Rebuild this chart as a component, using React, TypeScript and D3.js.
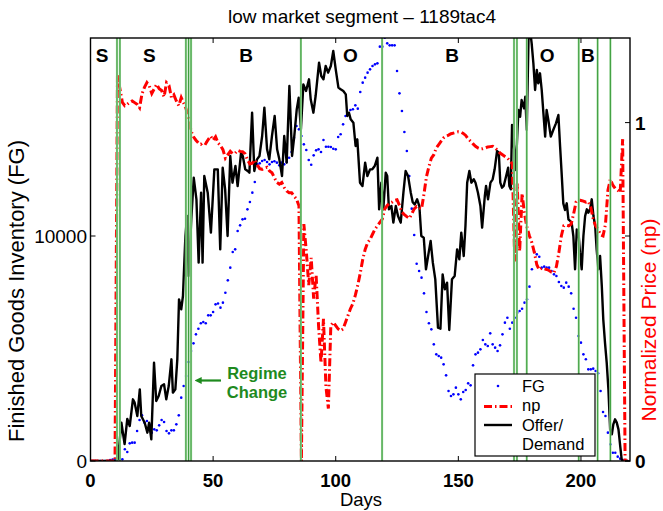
import React from 'react';
import * as d3 from 'd3';

// ---------- data ----------
// Finished goods inventory, one value per day (index = day)
const fgValues = [
  0, 0, 0, 0, 0, 0, 0, 0, 40, 60,
  100, 130, 90, 74, 519, 400, 785, 815, 815, 1333,
  1822, 2030, 1704, 1778, 1630, 1259, 1407, 1363, 1585, 1822,
  1733, 1333, 1230, 1363, 1363, 1630, 2030, 2815, 3333, 3778,
  4400, 4889, 5230, 5630, 5881, 6119, 6178, 6119, 6474, 6474,
  6622, 6963, 7000, 6815, 7037, 7481, 8030, 8593, 9289, 9407,
  10222, 10474, 10741, 10770, 11185, 11511, 11926, 12400, 13185, 13230,
  13333, 13378, 13289, 13185, 13289, 13319, 13259, 13141, 13259, 13185,
  13289, 13481, 13733, 14370, 14889, 14741, 14444, 14074, 13822, 13378,
  13170, 13585, 13807, 13852, 13733, 14267, 13970, 13970, 13956, 13881,
  13852, 14400, 14519, 14963, 15333, 15407, 15600, 15630, 15807, 15659,
  16400, 16815, 17037, 17259, 17407, 17556, 17630, 17674, 18415, 18415,
  18815, 18563, 18474, 18474, 18474, 17333, 16341, 15556, 14622, 13778,
  12667, 11215, 10044, 8770, 8444, 8148, 7452, 6622, 6119, 5852,
  5185, 4741, 4667, 4593, 4296, 3807, 3111, 2889, 2963, 3259,
  2963, 2741, 3067, 3156, 3452, 3363, 4252, 4741, 4815, 4963,
  5378, 5185, 5111, 5674, 5185, 5037, 4889, 5141, 5630, 6148,
  6370, 5881, 6148, 6370, 6593, 6667, 6770, 7037, 7185, 7748,
  8519, 9289, 9185, 9081, 8593, 8637, 8593, 8593, 8444, 8296,
  8222, 7956, 7778, 7704, 7926, 7748, 7452, 6770, 6370, 5556,
  5259, 4741, 4519, 4074, 4074, 4104, 4000, 3896, 3111, 2178,
  2000, 1259, 741, 370, 370, 193, 104, 44, 0, 0,
];

// Normalized price, one value per day (index = day)
const npValues = [
  0, 0, 0, 0, 0, 0, 0, 0, 0, 0,
  0, 1.14, 1.10, 1.06, 1.05, 1.054, 1.06, 1.064, 1.059, 1.054,
  1.044, 1.085, 1.104, 1.118, 1.108, 1.086, 1.10, 1.113, 1.10, 1.095,
  1.076, 1.118, 1.11, 1.074, 1.082, 1.064, 1.05, 1.074, 1.058, 1.04,
  1.015, 0.975, 0.958, 0.948, 0.94, 0.936, 0.942, 0.938, 0.95, 0.96,
  0.948, 0.958, 0.94, 0.932, 0.92, 0.895, 0.905, 0.915, 0.908, 0.91,
  0.918, 0.915, 0.914, 0.908, 0.89, 0.878, 0.88, 0.89, 0.875, 0.864,
  0.862, 0.866, 0.868, 0.857, 0.852, 0.837, 0.823, 0.818, 0.823, 0.808,
  0.798, 0.793, 0.793, 0.783, 0.774, 0.754, 0, 0.70, 0.62, 0.52,
  0.60, 0.48, 0.55, 0.40, 0.29, 0.42, 0.22, 0.155, 0.40, 0.41,
  0.40, 0.39, 0.385, 0.39, 0.41, 0.43, 0.45, 0.465, 0.49, 0.52,
  0.555, 0.595, 0.625, 0.645, 0.655, 0.67, 0.685, 0.695, 0.705, 0.715,
  0.745, 0.755, 0.762, 0.765, 0.77, 0.772, 0.755, 0.735, 0.728, 0.722,
  0.717, 0.73, 0.745, 0.752, 0.748, 0.745, 0.79, 0.84, 0.87, 0.895,
  0.905, 0.925, 0.935, 0.945, 0.955, 0.96, 0.963, 0.967, 0.969, 0.971,
  0.973, 0.972, 0.968, 0.962, 0.952, 0.945, 0.937, 0.93, 0.925, 0.922,
  0.923, 0.925, 0.928, 0.929, 0.93, 0.925, 0.918, 0.91, 0.905, 0.9,
  0.895, 0.888, 0.878, 0.59, 0.82, 0.62, 0.79, 0.73, 0.69, 0.665,
  0.645, 0.616, 0.58, 0.565, 0.57, 0.568, 0.566, 0.563, 0.558, 0.556,
  0.575, 0.616, 0.665, 0.695, 0.697, 0.695, 0.70, 0.73, 0.765, 0.772,
  0.77, 0.768, 0.765, 0.767, 0.75, 0.715, 0.695, 0.685, 0.668, 0.665,
  0.70, 0.80, 0.833, 0.815, 0.805, 0.8, 0.793, 0.951, 0, 0,
];

// Offer/Demand line: sample days and values
const odDays = [
  0, 10.5, 11.2, 12.6, 13.9, 15, 16, 17.3, 18, 19.1,
  20.1, 20.7, 22.1, 23.2, 23.9, 24.8, 25.9, 26.8, 27.8, 28.9,
  30, 30.9, 31.9, 33, 33.6, 34.6, 35.4, 36.1, 37, 37.7,
  38.7, 39.4, 40, 41.1, 42.1, 43.2, 44.1, 45.1, 45.7, 46.4,
  47.8, 49.1, 50.5, 51.9, 52.9, 53.9, 54.9, 55.9, 57, 57.9,
  59.1, 60, 61.4, 62.1, 63.1, 64.1, 64.8, 65.9, 66.8, 67.9,
  68.9, 70, 70.9, 72, 72.9, 74, 75.1, 76.1, 77, 78.1,
  79, 80, 81.1, 82.2, 83.1, 84.1, 84.9, 85.8, 86.8, 87.9,
  89.1, 89.8, 90.9, 91.8, 93.2, 94.1, 95, 95.9, 96.9, 98,
  99, 100, 101.1, 102, 103.1, 104.1, 104.7, 105.4, 106.1, 107.2,
  108.1, 108.8, 109.9, 110.9, 112, 112.9, 114, 114.9, 115.9, 117,
  117.7, 118.6, 119.4, 120.4, 121, 121.7, 122.7, 123.5, 124.5, 125.4,
  126.5, 127.6, 128.5, 129.5, 130.6, 131.4, 132.2, 133.2, 134.1, 134.9,
  135.9, 136.8, 137.9, 138.7, 139.6, 140.6, 141.7, 142.7, 143.6, 144.5,
  145.4, 146.3, 147.4, 148.5, 149.5, 150.4, 151.2, 152.2, 152.9, 153.6,
  154.5, 155.3, 156.3, 157, 158, 159, 159.7, 160.8, 161.3, 162.1,
  163.1, 164, 164.8, 165.8, 166.5, 167.1, 167.8, 168.5, 169.5, 170.3,
  170.8, 171.4, 171.9, 172.7, 173.4, 174.5, 175.2, 175.8, 176.8, 177.3,
  177.9, 178.6, 179.2, 179.9, 180.6, 181.3, 182, 182.6, 183.3, 184,
  184.7, 185.4, 186, 186.7, 187.7, 188.7, 189.8, 190.8, 191.5, 192.2,
  192.8, 193.5, 194.2, 194.9, 195.6, 196.2, 196.9, 197.6, 198.3, 199,
  199.6, 200.3, 201, 201.7, 202.4, 203, 203.7, 204.4, 205.1, 205.8,
  206.4, 207.1, 207.8, 208.5, 209.1, 209.8, 210.5, 211.2, 211.9, 212.6,
  213.2, 213.9, 214.6, 215.3, 216, 216.6, 217, 219,
];
const odValues = [
  0, 0, 90, 1700, 750, 1870, 1556, 2741, 2593, 2000,
  3185, 2000, 1700, 1260, 1700, 963, 4370, 2667, 2889, 3333,
  3407, 2741, 3333, 4519, 3037, 3185, 4519, 7185, 6741, 7333,
  10000, 10889, 8222, 10741, 12593, 11630, 8815, 11926, 8815, 12667,
  11926, 10148, 12963, 12963, 9407, 13037, 12074, 10000, 13556, 12370,
  13111, 12222, 13704, 13556, 12963, 12889, 12815, 15481, 12889, 13407,
  13556, 14444, 15704, 13852, 13407, 14444, 15333, 13852, 13407, 12667,
  14444, 13259, 16667, 13556, 14444, 15630, 16148, 14741, 16741, 16444,
  16963, 16074, 15481, 16222, 17704, 17111, 16963, 17556, 17259, 17556,
  18222, 17407, 16593, 16519, 16444, 16296, 15333, 15481, 15185, 15037,
  14000, 14296, 12370, 12222, 13259, 12667, 12963, 12963, 13111, 13481,
  11185, 12370, 11185, 12815, 12667, 11185, 11333, 10593, 11333, 10889,
  10593, 11926, 12889, 12667, 11926, 11500, 11400, 11630, 11333, 10000,
  9926, 8519, 9259, 9778, 8815, 8074, 5926, 5881, 8296, 7630,
  7926, 5822, 8074, 8222, 9407, 8963, 10148, 9111, 10444, 12370,
  12889, 12370, 12519, 12370, 11926, 11333, 10370, 11778, 12222, 11630,
  12370, 12519, 12963, 13778, 13704, 12370, 12148, 12222, 12667, 13037,
  12222, 12074, 14933, 13970, 12933, 15600, 15300, 16044, 15674, 16190,
  14711, 18711, 19200, 18563, 17674, 16489, 17378, 16785, 17230, 16489,
  15452, 14415, 15600, 15156, 14415, 14711, 15007, 15378, 13970, 12637,
  11452, 11156, 11452, 10741, 10667, 10593, 10000, 8519, 10296, 10148,
  9259, 8519, 10000, 10889, 11185, 11037, 11185, 11630, 10889, 10444,
  9407, 8519, 9111, 7778, 6296, 5259, 4370, 3185, 1407, 1185,
  1630, 1852, 1704, 1407, 667, 74, 0, 0,
];

// Regime-change days (green verticals)
const regimeDays = [10.8, 12, 38.9, 40, 41, 85.8, 118.9, 172.7, 173.9, 177.9, 199.1, 206.8, 212];

// Regime letters
const regimeLabels = ['S', 'S', 'B', 'O', 'B', 'O', 'B'];
const regimeLabelDays = [4.7, 24, 63.5, 106, 147.5, 186.2, 202.8];

const xTicks = [0, 50, 100, 150, 200];
const yLeftTicks = [0, 10000];
const yRightTicks = [0, 1];

const legendLabels = ['FG', 'np', 'Offer/', 'Demand'];

// ---------- layout ----------
const W = 663, H = 511;
const L = 90.5, R = 630, T = 38, B = 461;
const FONT = 'Liberation Sans, Arial, Helvetica, sans-serif';
const GREEN = '#1e8a1e';

export default function App() {
  const x = d3.scaleLinear().domain([0, 220]).range([L, R]);
  const yL = d3.scaleLinear().domain([0, 18800]).range([B, T]);
  const yR = d3.scaleLinear().domain([0, 1.25]).range([B, T]);

  const odLine = d3.line<number>().x((_, i) => x(odDays[i])).y((v) => yL(v));
  const npLine = d3.line<number>().x((_, i) => x(i)).y((v) => yR(v));

  const legendX = 475, legendY = 374;

  return (
    <svg width={W} height={H} style={{ position: 'absolute', left: 0, top: 0, background: '#fff' }}
      fontFamily={FONT}>
      <defs>
        <clipPath id="plot">
          <rect x={L} y={T} width={R - L} height={B - T} />
        </clipPath>
        <marker id="arrow" viewBox="0 0 10 10" refX="1" refY="5" markerWidth="3.2" markerHeight="3.2" orient="auto-start-reverse">
          <path d="M0,0 L10,5 L0,10 z" fill={GREEN} />
        </marker>
      </defs>
      <rect x={0} y={0} width={W} height={H} fill="#fff" />

      {/* title */}
      <text x={362} y={23} textAnchor="middle" fontSize={19}>low market segment – 1189tac4</text>

      <g clipPath="url(#plot)">
        {/* FG dots */}
        {fgValues.map((v, i) => (
          <circle key={'fg' + i} cx={x(i)} cy={yL(v)} r={1.3} fill="#0000ff" />
        ))}
        {/* Offer/Demand */}
        <path d={odLine(odValues) || ''} fill="none" stroke="#000" strokeWidth={2.4} strokeLinejoin="round" />
        {/* np */}
        <path d={npLine(npValues) || ''} fill="none" stroke="#ff0000" strokeWidth={3}
          strokeDasharray="8,3,1.5,3" />
        {/* regime change lines */}
        {regimeDays.map((d, i) => (
          <g key={'rg' + i}>
            <line x1={x(d)} x2={x(d)} y1={T} y2={B} stroke="#a6dca6" strokeWidth={2.2} />
            <line x1={x(d)} x2={x(d)} y1={T} y2={B} stroke="#2a922a" strokeWidth={0.9} />
          </g>
        ))}
      </g>

      {/* regime letters */}
      {regimeLabels.map((s, i) => (
        <text key={'rl' + i} x={x(regimeLabelDays[i])} y={62} textAnchor="middle" fontSize={19} fontWeight="bold">{s}</text>
      ))}

      {/* annotation */}
      <line x1={221} x2={201} y1={380.5} y2={380.5} stroke={GREEN} strokeWidth={2.2} markerEnd="url(#arrow)" />
      <text x={257} y={379} textAnchor="middle" fontSize={16.5} fontWeight="bold" fill={GREEN}>Regime</text>
      <text x={257} y={398} textAnchor="middle" fontSize={16.5} fontWeight="bold" fill={GREEN}>Change</text>

      {/* axes box */}
      <rect x={L} y={T} width={R - L} height={B - T} fill="none" stroke="#000" strokeWidth={1.4} />

      {/* x ticks */}
      {xTicks.map((t) => (
        <g key={'xt' + t}>
          <line x1={x(t)} x2={x(t)} y1={B} y2={B - 5} stroke="#000" />
          <line x1={x(t)} x2={x(t)} y1={T} y2={T + 5} stroke="#000" />
          <text x={x(t)} y={487} textAnchor="middle" fontSize={18.5} fontWeight="bold">{t}</text>
        </g>
      ))}
      <text x={361} y={506} textAnchor="middle" fontSize={18.5}>Days</text>

      {/* left ticks */}
      {yLeftTicks.map((t) => (
        <g key={'yl' + t}>
          <line x1={L} x2={L + 5} y1={yL(t)} y2={yL(t)} stroke="#000" />
          <line x1={R} x2={R - 5} y1={yL(t)} y2={yL(t)} stroke="#000" />
          <text x={87} y={yL(t) + 7} textAnchor="end" fontSize={19}>{t}</text>
        </g>
      ))}
      <text transform={`translate(24,291) rotate(-90)`} textAnchor="middle" fontSize={22}>Finished Goods Inventory (FG)</text>

      {/* right ticks */}
      {yRightTicks.map((t) => (
        <g key={'yr' + t}>
          <line x1={R} x2={R - 5} y1={yR(t)} y2={yR(t)} stroke="#000" />
          <text x={635} y={yR(t) + 7} textAnchor="start" fontSize={19} fontWeight="bold">{t}</text>
        </g>
      ))}
      <text transform={`translate(656,320) rotate(-90)`} textAnchor="middle" fontSize={21} fill="#ff0000">Normalized Price (np)</text>

      {/* legend */}
      <g>
        <rect x={legendX} y={legendY} width={120} height={82} fill="#fff" stroke="#000" strokeWidth={1.2} />
        <circle cx={498} cy={386} r={1.3} fill="#0000ff" />
        <line x1={484} x2={512} y1={406.5} y2={406.5} stroke="#ff0000" strokeWidth={3} strokeDasharray="8,3,1.5,3" />
        <line x1={484} x2={512} y1={425} y2={425} stroke="#000" strokeWidth={2.4} />
        {legendLabels.map((s, i) => (
          <text key={'lg' + i} x={522} y={[391.5, 411, 431, 450][i]} fontSize={16.5}>{s}</text>
        ))}
      </g>
    </svg>
  );
}
